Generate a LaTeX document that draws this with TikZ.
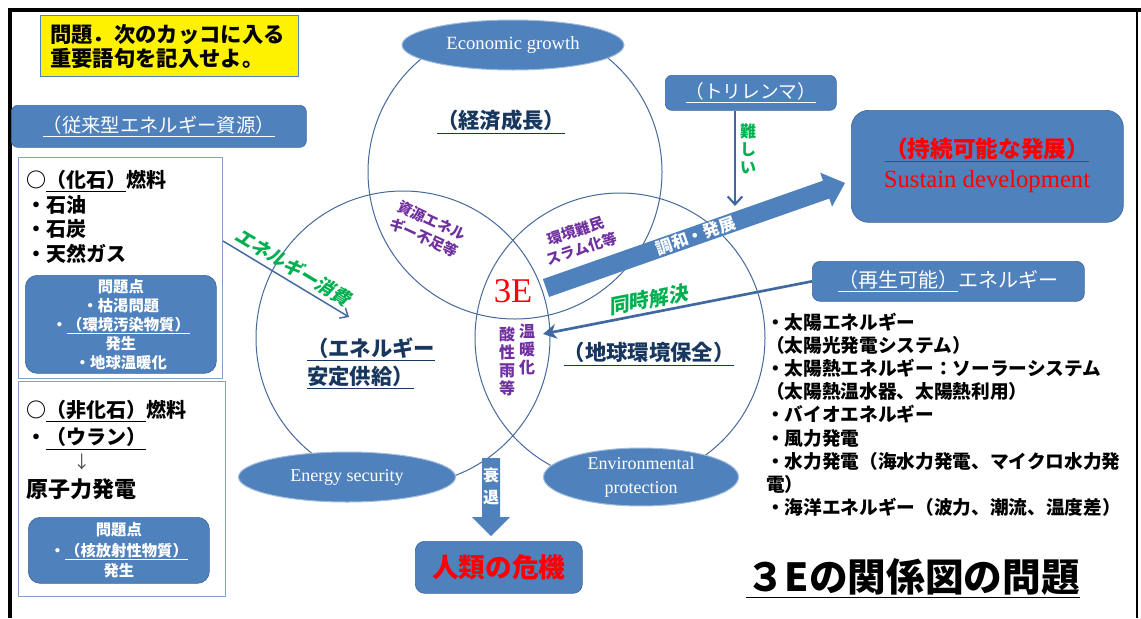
\documentclass[tikz,border=0pt]{standalone}
\usepackage{fontspec}
\setmainfont{Noto Sans CJK JP}
\newfontfamily\serifen{Liberation Serif}
\newfontfamily\jpslant{Noto Sans CJK JP}[FakeSlant=0.2]
\usetikzlibrary{calc,arrows.meta,shapes.geometric}
\definecolor{pblue}{RGB}{79,129,189}
\definecolor{pbluedark}{RGB}{65,105,155}
\definecolor{boxline}{RGB}{130,160,200}
\definecolor{circline}{RGB}{70,105,155}
\definecolor{ellline}{RGB}{160,188,220}
\definecolor{navy}{RGB}{23,55,94}
\definecolor{purp}{RGB}{112,48,160}
\definecolor{grn}{RGB}{0,176,80}
\definecolor{arrowblue}{RGB}{65,105,160}
\newcommand\fs[2]{\fontsize{#1}{#2}\selectfont}
\newcommand\myblockarrow[6]{%
  \coordinate (#2-h) at ($(#3)!#6!(#2)$);
  \fill[#1] ($(#2)!#4!90:(#3)$) -- ($(#2-h)!#4!90:(#3)$) -- ($(#2-h)!#5!90:(#3)$) -- (#3)
    -- ($(#2-h)!#5!-90:(#3)$) -- ($(#2-h)!#4!-90:(#3)$) -- ($(#2)!#4!-90:(#3)$) -- cycle;
}
\tikzset{
  bluebox/.style={fill=pblue, draw=pbluedark, line width=0.5pt, inner sep=0pt, text=white, align=center},
  whitebox/.style={draw=boxline, line width=0.75pt, fill=white, inner sep=0pt},
  circ/.style={circle, draw=circline, line width=0.75pt, inner sep=0pt},
  ell/.style={ellipse, fill=pblue, draw=ellline, line width=0.75pt, inner sep=0pt, text=white,
    font=\serifen\fs{13.5}{18.5}, align=center},
  navylabel/.style={text=navy, font=\bfseries\fs{16}{21}, inner sep=0pt},
  purplabel/.style={text=purp, font=\bfseries\fs{11}{14}, align=center, inner sep=0pt},
  vertlabel/.style={font=\bfseries\fs{12}{13.5}, align=center, inner sep=0pt},
  thinarrow/.style={draw=arrowblue, line width=1.1pt, -{Straight Barb[length=5pt,width=9pt]}},
}
\begin{document}
\begin{tikzpicture}[x=0.75pt,y=-0.75pt]
\useasboundingbox (0,0) rectangle (1141,618);
% frame
\draw[line width=3pt] (10,618) -- (10,10) -- (1141,10);
\draw[line width=0.8pt] (1137,10) -- (1137,618);

% question box
\node[fill=yellow, draw=pblue, line width=0.75pt, anchor=north west, minimum width=193.5pt,
  minimum height=45.75pt, inner sep=0pt] (qbox) at (40,15) {};
\node[anchor=west, align=left, font=\bfseries\fs{16}{18}, inner sep=0pt] (qtext) at (50,46)
  {問題．次のカッコに入る\\重要語句を記入せよ。};

% conventional energy
\node[bluebox, rounded corners=5pt, anchor=north west, minimum width=221.25pt, minimum height=31.5pt,
  font=\fs{14.5}{17}] (conv) at (11,105) {\underline{（従来型エネルギー資源）}};

% fossil box
\node[whitebox, anchor=north west, minimum width=153pt, minimum height=165.75pt] (fossil) at (18,157) {};
\node[anchor=north west, align=left, font=\bfseries\fs{15}{18.4}, inner sep=0pt] (fossilTxt) at (26,170)
  {○\underline{（化石）}燃料\\・石油\\・石炭\\・天然ガス};
\node[bluebox, rounded corners=9pt, anchor=north west, minimum width=143.25pt, minimum height=73.5pt,
  font=\bfseries\fs{11.5}{14.2}] (fossilProb) at (25,275)
  {問題点\\・枯渇問題\\・\underline{（環境汚染物質）}\\発生\\・地球温暖化};

% non fossil box
\node[whitebox, anchor=north west, minimum width=155.25pt, minimum height=161.25pt] (nonfossil) at (18,381) {};
\node[anchor=north west, align=left, font=\bfseries\fs{15}{20.5}, inner sep=0pt] (nonfossilTxt) at (26,400)
  {○\underline{（非化石）}燃料\\・\underline{（ウラン）}};
\node[text=black!70, font=\fs{13}{15}, inner sep=0pt] (downmark) at (82,462) {↓};
\node[anchor=west, font=\bfseries\fs{16.5}{19}, inner sep=0pt] (nuclear) at (26,489) {原子力発電};
\node[bluebox, rounded corners=9pt, anchor=north west, minimum width=135.75pt, minimum height=49.5pt,
  font=\bfseries\fs{11.5}{15.5}] (nonfossilProb) at (28,517)
  {問題点\\・\underline{（核放射性物質）}\\発生};

% circles
\node[circ, minimum size=220.5pt] (cEco) at (515,172) {};
\node[circ, minimum size=220.5pt] (cSec) at (403,338) {};
\node[circ, minimum size=217.5pt] (cEnv) at (620,338) {};

% ellipses
\node[ell, minimum width=166.5pt, minimum height=37.5pt, font=\serifen\fs{14}{18.5}] (eEco) at (513,45) {Economic growth};
\node[ell, minimum width=162.75pt, minimum height=37.5pt] (eSec) at (347,477) {Energy security};
\node[ell, minimum width=146.25pt, minimum height=37.5pt] (eEnv) at (641,477) {Environmental\\protection};

% circle labels
\node[navylabel] (lEco) at (501,122) {\underline{（経済成長）}};
\node[navylabel, anchor=north west, align=left] (lSec) at (307,337) {\underline{（エネルギー}\\\underline{安定供給）}};
\node[navylabel] (lEnv) at (649,354) {\underline{（地球環境保全）}};

\node[purplabel, rotate=-25] (pRes) at (428,229) {資源エネル\\ギー不足等};
\node[purplabel, rotate=18] (pRef) at (579,240) {環境難民\\スラム化等};
\node[vertlabel, text=purp, anchor=north] (pWarm) at (527,324) {温\\暖\\化};
\node[vertlabel, text=purp, anchor=north] (pAcid) at (507,326) {酸\\性\\雨\\等};

\node[text=red, font=\serifen\fs{26}{30}, inner sep=0pt] (threeE) at (513,291) {3E};

% trilemma
\node[bluebox, rounded corners=5pt, anchor=north west, minimum width=128.25pt, minimum height=26.25pt,
  font=\fs{14}{16}] (tri) at (665,75) {\underline{（トリレンマ）}};
\coordinate (triEnd) at (735,206);
\draw[draw=arrowblue, line width=1.6pt, -{Straight Barb[length=6pt,width=11pt]}] (tri.south -| triEnd) -- (triEnd);
\node[vertlabel, text=grn, anchor=north] (hard) at (748,124) {難\\し\\い};

% sustainable development
\node[bluebox, rounded corners=13pt, anchor=north west, minimum width=204pt, minimum height=84pt] (sus) at (851,110) {};
\node[text=red, font=\bfseries\fs{17}{20}, inner sep=0pt] (susJ) at (987,150) {\underline{（持続可能な発展）}};
\node[text=red, font=\serifen\fs{18.5}{20}, inner sep=0pt] (susE) at (987,182) {Sustain development};

% harmony arrow
\coordinate (harTail) at (546,288);
\coordinate (harTip) at (845,183);
\myblockarrow{pblue}{harTail}{harTip}{7.1pt}{13.5pt}{15pt}
\path (harTail) -- (harTip) node[midway, sloped, text=white, font=\bfseries\fs{12.5}{14}, inner sep=0pt] (harTxt) {調和・発展};

% renewable
\node[bluebox, rounded corners=6pt, anchor=north west, minimum width=204pt, minimum height=30pt,
  font=\fs{15}{18}] (renew) at (812,261) {\underline{（再生可能）}エネルギー};
\coordinate (lensTip) at (543,334);
\draw[draw=arrowblue, line width=2pt, -{Stealth[length=10pt,width=11pt,inset=3pt]}] (renew.west) -- (lensTip)
  node[pos=0.6, sloped, above=2pt, text=grn, font=\jpslant\bfseries\fs{15}{17}, inner sep=0pt] (simul) {同時解決};

\node[anchor=north west, align=left, font=\bfseries\fs{14}{17.3}, inner sep=0pt] (renewList) at (766,313)
  {・太陽エネルギー\\（太陽光発電システム）\\・太陽熱エネルギー：ソーラーシステム\\（太陽熱温水器、太陽熱利用）\\・バイオエネルギー\\・風力発電\\・水力発電（海水力発電、マイクロ水力発\\電）\\・海洋エネルギー（波力、潮流、温度差）};

% energy consumption arrow
\coordinate (consEnd) at (349,317);
\draw[thinarrow] ([yshift=20.25pt]fossil.east) -- (consEnd)
  node[midway, sloped, above=3pt, text=grn, font=\jpslant\bfseries\fs{14}{16}, inner sep=0pt] (cons) {エネルギー消費};

% decline arrow and crisis
\node[bluebox, rounded corners=7pt, anchor=north west, minimum width=125.25pt, minimum height=39pt,
  text=red, font=\bfseries\fs{20}{22}] (crisis) at (415,541) {人類の危機};
\coordinate (decTail) at (491,458);
\coordinate (decTip) at (491,536);
\myblockarrow{pblue}{decTail}{decTip}{6.75pt}{14.25pt}{14.25pt}
\node[vertlabel, text=white, font=\bfseries\fs{12}{16.5}] (decTxt) at (491,486) {衰\\退};

% title
\node[font=\bfseries\fs{29}{34}, inner sep=0pt] (title) at (913,578) {\underline{３Eの関係図の問題}};
\end{tikzpicture}
\end{document}
